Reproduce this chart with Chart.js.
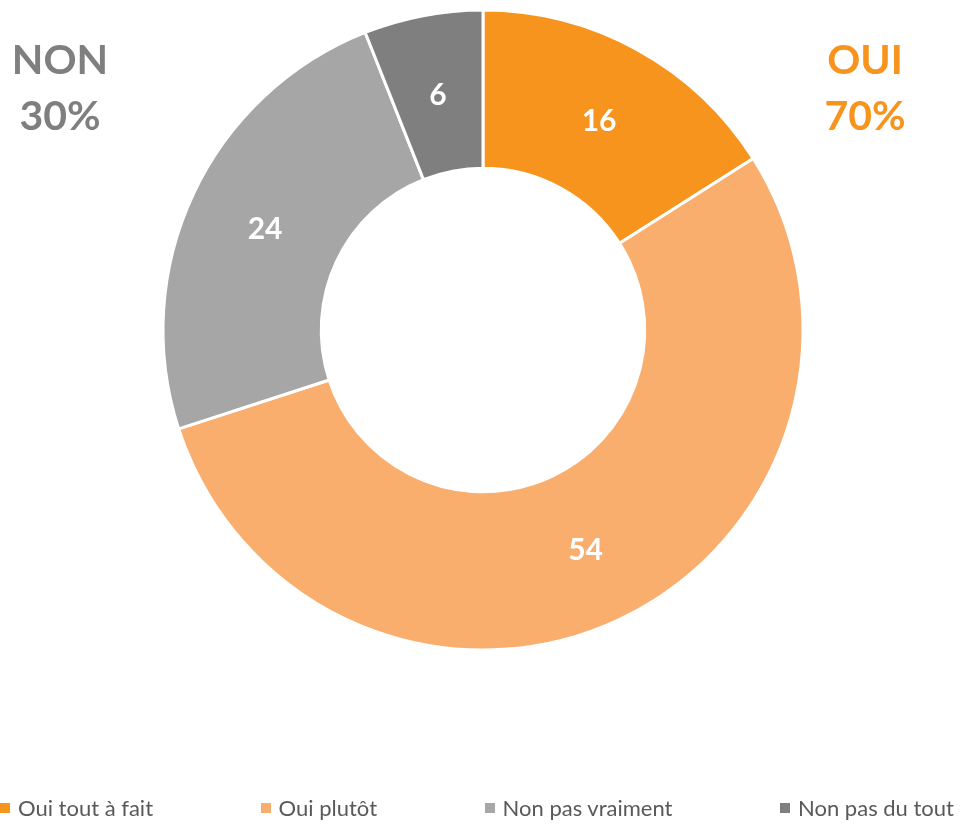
<!DOCTYPE html>
<html>
<head>
<meta charset="utf-8">
<script src="https://cdn.jsdelivr.net/npm/chart.js@4/dist/chart.umd.min.js"></script>
<style>
    body { margin: 0; background: #fff; }
    #wrap { position: relative; width: 961px; height: 824px; }
    #legend {
        position: absolute; left: 0; top: 795px; width: 954px; height: 26px;
        display: flex; justify-content: space-between;
        font-family: Lato, sans-serif; font-size: 22px; color: #595959; line-height: 26px;
    }
    #legend span.item { display: flex; align-items: center; white-space: nowrap; }
    #legend span.box { width: 10px; height: 10px; margin-right: 8px; display: inline-block; }
</style>
</head>
<body>
<div id="wrap">
    <canvas id="donut" width="961" height="824"></canvas>
    <div id="legend"></div>
</div>
<script>
const categories = ['Oui tout à fait', 'Oui plutôt', 'Non pas vraiment', 'Non pas du tout'];
const values = [16, 54, 24, 6];
const colors = ['#F7941D', '#F9AE6E', '#A6A6A6', '#7F7F7F'];

const groupLabels = ['NON', 'OUI'];
const groupPercents = [30, 70];
const groupColors = ['#7F7F7F', '#F7941D'];

// white numbers inside each slice
const sliceLabels = {
    id: 'sliceLabels',
    afterDatasetsDraw(chart) {
        const ctx = chart.ctx;
        const meta = chart.getDatasetMeta(0);
        ctx.save();
        ctx.font = 'bold 30px Lato, sans-serif';
        ctx.fillStyle = '#fff';
        ctx.textAlign = 'center';
        ctx.textBaseline = 'middle';
        meta.data.forEach((arc, i) => {
            const p = arc.getCenterPoint();
            ctx.fillText(values[i], p.x, p.y + 2);
        });
        ctx.restore();
    }
};

// NON / OUI totals in the corners
const groupTotals = {
    id: 'groupTotals',
    afterDraw(chart) {
        const ctx = chart.ctx;
        const xs = [60, 865];
        ctx.save();
        ctx.font = 'bold 41px Lato, sans-serif';
        ctx.textAlign = 'center';
        ctx.textBaseline = 'middle';
        groupLabels.forEach((label, i) => {
            ctx.fillStyle = groupColors[i];
            ctx.fillText(label, xs[i], 61);
            ctx.fillText(groupPercents[i] + '%', xs[i], 117);
        });
        ctx.restore();
    }
};

new Chart(document.getElementById('donut').getContext('2d'), {
    type: 'doughnut',
    data: {
        labels: categories,
        datasets: [{
            data: values,
            backgroundColor: colors,
            borderColor: '#fff',
            borderWidth: 3,
            radius: 320,
            cutout: 161
        }]
    },
    options: {
        responsive: false,
        animation: false,
        layout: { padding: { top: 10, bottom: 174, left: 5, right: 0 } },
        plugins: {
            legend: { display: false },
            tooltip: { enabled: false }
        }
    },
    plugins: [sliceLabels, groupTotals]
});

const legend = document.getElementById('legend');
categories.forEach((c, i) => {
    const item = document.createElement('span');
    item.className = 'item';
    item.innerHTML = '<span class="box" style="background:' + colors[i] + '"></span>' + c;
    legend.appendChild(item);
});
</script>
</body>
</html>
